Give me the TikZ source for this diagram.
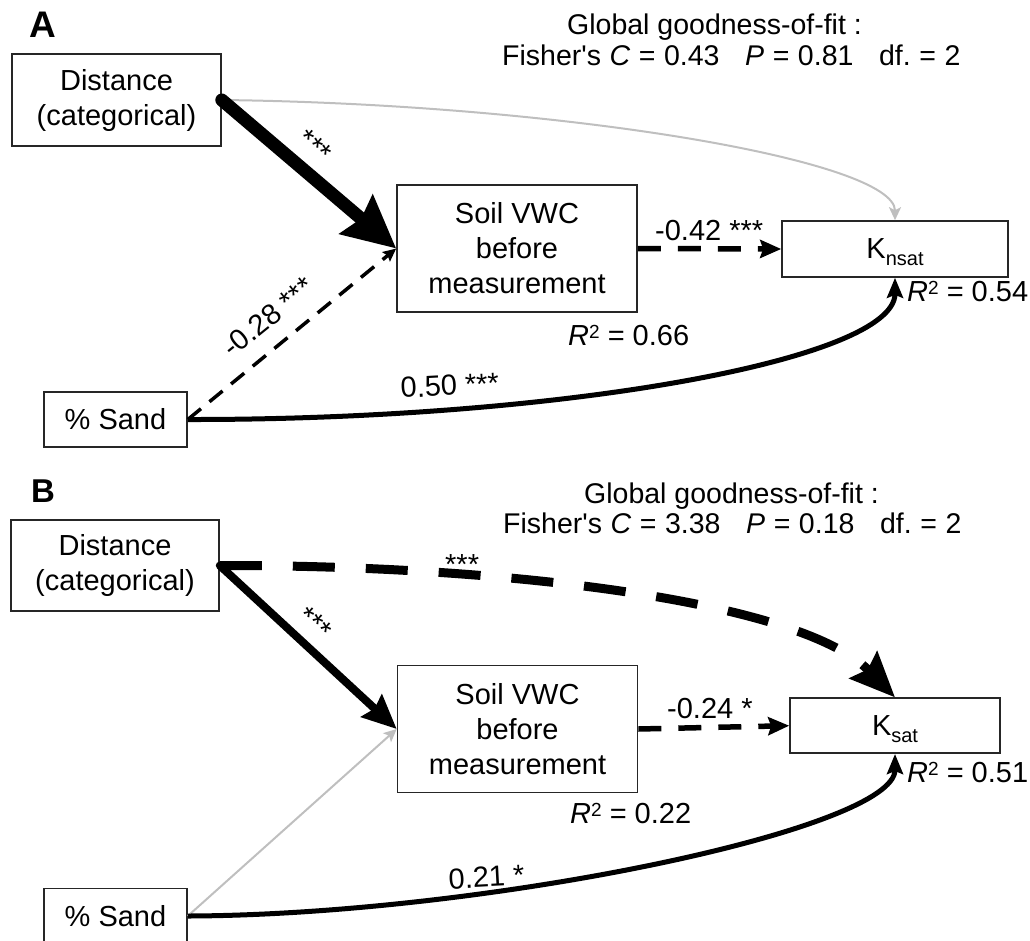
\documentclass[tikz,border=0pt]{standalone}
\usepackage{fontspec}
\setmainfont{Liberation Sans}
\usetikzlibrary{arrows.meta}
\newcommand\RsqLbl{\textit{R}\raisebox{7pt}{\fontsize{19}{19}\selectfont 2}}
\newcommand\FisherLine[3]{Fisher\textquotesingle s\hspace{.3em}\textit{C}\hspace{.3em}=\hspace{.3em}#1\hspace{.9em}\textit{P}\hspace{.3em}=\hspace{.3em}#2\hspace{.9em}df.\hspace{.3em}=\hspace{.3em}#3}
\begin{document}
\begin{tikzpicture}[x=1pt,y=-1pt,
  box/.style={draw=black!85, line width=1.6pt, inner sep=0pt, align=center,
    font=\fontsize{29}{35}\selectfont},
  lbl/.style={inner sep=0pt, font=\fontsize{29}{35}\selectfont},
  gof/.style={inner sep=0pt, font=\fontsize{28.5}{33}\selectfont},
  panel/.style={inner sep=0pt, font=\fontsize{#1}{#1}\selectfont\bfseries},
  grayarr/.style={draw=black!25, line width=2pt,
    -{Stealth[length=13pt,width=12pt,inset=3pt]}},
  bigA/.style={line width=13pt, line cap=round,
    -{Stealth[length=52pt,width=50pt,inset=6pt]}},
  bigB/.style={line width=8pt, line cap=round,
    -{Stealth[length=34pt,width=30pt,inset=4pt]}},
  dashS/.style={line width=3.5pt, dash pattern=on 17pt off 11pt,
    -{Stealth[length=13pt,width=12pt,inset=2pt]}},
  dashK/.style={line width=5.5pt, dash pattern=on 23pt off 17pt,
    -{Stealth[length=21pt,width=18pt,inset=3pt]}},
  curveK/.style={line width=5pt,
    -{Stealth[length=20pt,width=16pt,inset=3pt]}},
  bigdash/.style={line width=9pt, dash pattern=on 42pt off 31pt,
    -{Stealth[length=45pt,width=38pt,inset=6pt]}}
]
\clip (0,0) rectangle (1030,940);

% ---------------- Panel A ----------------
\node[panel=37, anchor=base west] (labA) at (29,37) {A};
\node[gof, anchor=base west] (gofA1) at (567,34) {Global goodness-of-fit :};
\node[gof, anchor=base west] (gofA2) at (502,65) {\FisherLine{0.43}{0.81}{2}};

\node[box, minimum width=209pt, minimum height=92pt] (distA) at (116.5,100)
  {Distance\\(categorical)};
\node[box, minimum width=240pt, minimum height=127pt] (soilA) at (517,248.5)
  {Soil VWC\\before\\measurement};
\node[box, minimum width=226pt, minimum height=56pt, text depth=0pt] (kA) at (895,249)
  {K\raisebox{-6.5pt}{\fontsize{20}{20}\selectfont nsat}};
\node[box, minimum width=143pt, minimum height=55pt] (sandA) at (115.5,419.5)
  {\% Sand};

\draw[grayarr] (distA.east) .. controls (560,104) and (895,160) .. (kA.north);
\draw[bigA] (distA.east) -- (soilA.west);
\draw[dashS] (sandA.east) -- (soilA.west);
\draw[dashK] (soilA.east) -- (kA.west);
\draw[curveK] (sandA.east) .. controls (560,420) and (895,360) .. (kA.south);

\node[lbl, rotate=-40] (sA1) at (315,146) {***};
\node[lbl, rotate=39] (sA2) at (268,317) {-0.28 ***};
\node[lbl, anchor=base west] (sA3) at (655,240) {-0.42 ***};
\node[lbl, anchor=base west, rotate=3] (sA4) at (401,398) {0.50 ***};
\node[lbl, anchor=base west] (rA1) at (568,345) {\RsqLbl{} = 0.66};
\node[lbl, anchor=base west] (rA2) at (907,301) {\RsqLbl{} = 0.54};

% ---------------- Panel B ----------------
\node[panel=33, anchor=base west] (labB) at (31,502) {B};
\node[gof, anchor=base west] (gofB1) at (584,503) {Global goodness-of-fit :};
\node[gof, anchor=base west] (gofB2) at (503,533) {\FisherLine{3.38}{0.18}{2}};

\node[box, minimum width=208pt, minimum height=91pt] (distB) at (115,565.5)
  {Distance\\(categorical)};
\node[box, minimum width=240pt, minimum height=127pt] (soilB) at (517.5,729)
  {Soil VWC\\before\\measurement};
\node[box, minimum width=210pt, minimum height=55pt, text depth=0pt] (kB) at (895,725.7)
  {K\raisebox{-6.5pt}{\fontsize{20}{20}\selectfont sat}};
\node[box, minimum width=143pt, minimum height=55pt] (sandB) at (115.5,916)
  {\% Sand};

\draw[bigdash] (distB.east) .. controls (500,565) and (800,600) .. (kB.north);
\draw[bigB] (distB.east) -- (soilB.west);
\draw[grayarr] (sandB.east) -- (soilB.west);
\draw[dashK] (soilB.east) -- (kB.west);
\draw[curveK] (sandB.east) .. controls (480,915) and (895,830) .. (kB.south);

\node[lbl, anchor=base west] (sB0) at (445,574) {***};
\node[lbl, rotate=-42] (sB1) at (315,623) {***};
\node[lbl, anchor=base west] (sB3) at (667,718) {-0.24 *};
\node[lbl, anchor=base west, rotate=3] (sB4) at (449,889) {0.21 *};
\node[lbl, anchor=base west] (rB1) at (570,823) {\RsqLbl{} = 0.22};
\node[lbl, anchor=base west] (rB2) at (907,782) {\RsqLbl{} = 0.51};
\end{tikzpicture}
\end{document}
